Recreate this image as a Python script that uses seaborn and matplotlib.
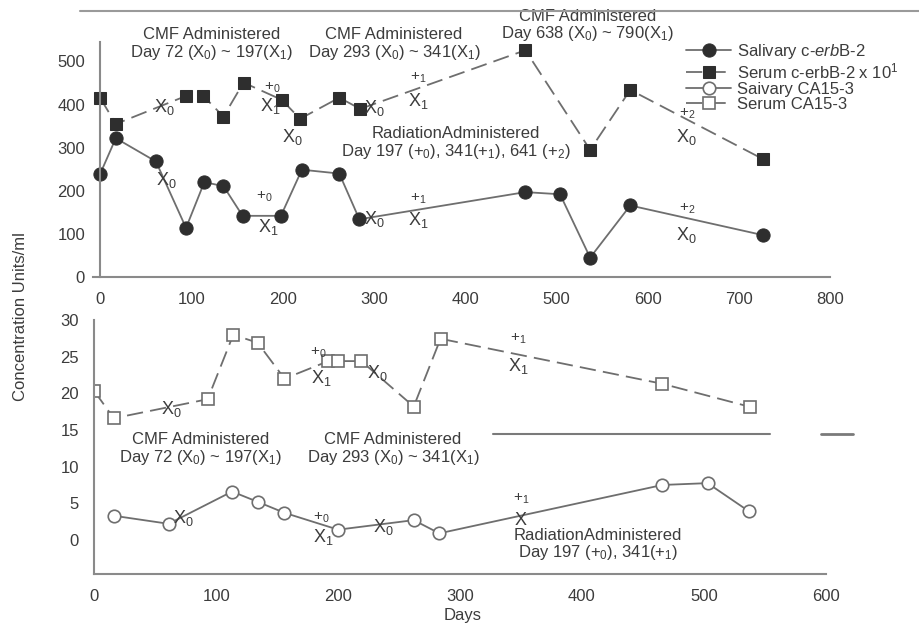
import matplotlib
matplotlib.use('Agg')
import matplotlib.pyplot as plt
import seaborn as sns
from matplotlib.lines import Line2D

# ── Data ───────────────────────────────────────────────────────────────────────
sal_erb_days = [0, 17, 61, 94, 114, 135, 156, 198, 221, 262, 284, 466, 504, 537, 581, 727]
sal_erb_vals = [240, 322, 268, 114, 220, 211, 142, 142, 249, 240, 134, 197, 192, 45, 166, 97]

ser_erb_days = [0, 17, 94, 113, 135, 157, 199, 219, 262, 285, 466, 537, 581, 727]
ser_erb_vals = [415, 355, 420, 420, 372, 451, 411, 367, 416, 390, 526, 295, 434, 273]

sal_ca_days = [16, 61, 113, 134, 156, 200, 262, 283, 466, 503, 537]
sal_ca_vals = [3.3, 2.2, 6.6, 5.2, 3.7, 1.4, 2.7, 0.9, 7.5, 7.75, 3.9]

ser_ca_days = [0, 16, 93, 114, 134, 156, 192, 200, 219, 262, 284, 466, 538]
ser_ca_vals = [20.3, 16.6, 19.2, 28.0, 26.9, 22.0, 24.4, 24.4, 24.4, 18.2, 27.45, 21.3, 18.15]

series_labels = ['Salivary c-$\\mathit{erb}$B-2', 'Serum c-erbB-2 x 10$^1$',
                 'Saivary CA15-3', 'Serum CA15-3']

top_xticks = list(range(0, 801, 100))
top_yticks = list(range(0, 501, 100))
bot_xticks = list(range(0, 601, 100))
bot_yticks = list(range(0, 31, 5))

# (text, day, value)
top_notes = [
    ('CMF Administered\nDay 72 (X$_0$) ~ 197(X$_1$)', 122, 540),
    ('CMF Administered\nDay 293 (X$_0$) ~ 341(X$_1$)', 322, 540),
    ('CMF Administered\nDay 638 (X$_0$) ~ 790(X$_1$)', 534, 582),
    ('RadiationAdministered\nDay 197 (+$_0$), 341(+$_1$), 641 (+$_2$)', 390, 309),
]
bot_notes = [
    ('CMF Administered\nDay 72 (X$_0$) ~ 197(X$_1$)', 87, 12.35),
    ('CMF Administered\nDay 293 (X$_0$) ~ 341(X$_1$)', 245, 12.35),
    ('RadiationAdministered\nDay 197 (+$_0$), 341(+$_1$)', 413, -0.7),
]

top_marks = [
    ('X$_0$', 70, 395), ('X$_0$', 72, 224),
    ('+$_0$', 188, 439), ('X$_1$', 186, 397),
    ('+$_0$', 180, 185), ('X$_1$', 184, 116),
    ('X$_0$', 211, 324),
    ('X$_0$', 300, 393), ('X$_0$', 300, 135),
    ('+$_1$', 349, 463), ('X$_1$', 349, 409),
    ('+$_1$', 349, 182), ('X$_1$', 349, 132),
    ('+$_2$', 643, 378), ('X$_0$', 643, 324),
    ('+$_2$', 643, 159), ('X$_0$', 643, 97),
]
bot_marks = [
    ('X$_0$', 63, 17.8),
    ('+$_0$', 184, 25.5), ('X$_1$', 186, 22.1),
    ('X$_0$', 232, 22.8),
    ('+$_1$', 348, 27.4), ('X$_1$', 348, 23.7),
    ('X$_0$', 73, 3.0),
    ('+$_0$', 186, 3.0), ('X$_1$', 188, 0.45),
    ('X$_0$', 237, 1.8),
    ('+$_1$', 350, 5.6), ('X', 350, 2.6),
]

# ── Style ──────────────────────────────────────────────────────────────────────
sns.set_style('white')
plt.rcParams['font.family'] = ['Liberation Sans', 'DejaVu Sans']
plt.rcParams['mathtext.fontset'] = 'custom'
plt.rcParams['mathtext.rm'] = 'Liberation Sans'
plt.rcParams['mathtext.it'] = 'Liberation Sans:italic'

TXT = '#3c3c3c'
LINE = '#6e6e6e'
DARK = '#2e2e2e'
AX = '#8a8a8a'

fig = plt.figure(figsize=(9.19, 6.24), dpi=100)
ax_top = fig.add_axes([0.1012, 0.556, 0.802, 0.3766])
ax_bot = fig.add_axes([0.1026, 0.0801, 0.796, 0.407])

# ── Top panel ──────────────────────────────────────────────────────────────────
sns.lineplot(x=sal_erb_days, y=sal_erb_vals, ax=ax_top, color=LINE, lw=1.3,
             marker='o', ms=9.5, mfc=DARK, mec=DARK, label=series_labels[0])
sns.lineplot(x=ser_erb_days, y=ser_erb_vals, ax=ax_top, color=LINE, lw=1.3,
             linestyle=(0, (9, 4)), marker='s', ms=8.5, mfc=DARK, mec=DARK,
             label=series_labels[1])

# ── Bottom panel ───────────────────────────────────────────────────────────────
sns.lineplot(x=sal_ca_days, y=sal_ca_vals, ax=ax_bot, color=LINE, lw=1.3,
             marker='o', ms=9, mfc='white', mec=LINE, mew=1.2, label=series_labels[2])
sns.lineplot(x=ser_ca_days, y=ser_ca_vals, ax=ax_bot, color=LINE, lw=1.3,
             linestyle=(0, (9, 4)), marker='s', ms=8, mfc='white', mec=LINE, mew=1.2,
             label=series_labels[3])

handles = ax_top.get_legend_handles_labels()[0] + ax_bot.get_legend_handles_labels()[0]
for a in (ax_top, ax_bot):
    if a.get_legend():
        a.get_legend().remove()

# ── Axes styling ───────────────────────────────────────────────────────────────
ax_top.set_xlim(-8, 800)
ax_top.set_ylim(0, 545)
ax_top.set_xticks(top_xticks)
ax_top.set_yticks(top_yticks)
ax_top.spines['left'].set_position(('data', 0))

ax_bot.set_xlim(0, 600)
ax_bot.set_ylim(-4.65, 30)
ax_bot.set_xticks(bot_xticks)
ax_bot.set_yticks(bot_yticks)
ax_bot.spines['left'].set_bounds(-4.65, 30)

for a in (ax_top, ax_bot):
    a.patch.set_alpha(0)
    for s in ('top', 'right'):
        a.spines[s].set_visible(False)
    for s in ('left', 'bottom'):
        a.spines[s].set_color(AX)
        a.spines[s].set_linewidth(1.5)
    a.tick_params(direction='out', length=6, width=1.2, color=AX,
                  labelsize=12, labelcolor=TXT, pad=5)
    a.set_xlabel('')
    a.set_ylabel('')

# ── Annotations ────────────────────────────────────────────────────────────────
for a, notes in ((ax_top, top_notes), (ax_bot, bot_notes)):
    for txt, x, y in notes:
        a.text(x, y, txt, ha='center', va='center', fontsize=12, color=TXT,
               linespacing=1.05, clip_on=False)

for a, marks in ((ax_top, top_marks), (ax_bot, bot_marks)):
    for txt, x, y in marks:
        size = 13 if txt.startswith('X') else 11
        a.text(x, y, txt, ha='center', va='center', fontsize=size, color=TXT,
               clip_on=False)

# scan artefacts: border lines
fig.add_artist(Line2D([0.087, 1.0], [1 - 10.5 / 624] * 2, color='#9a9a9a', lw=1.5))
ax_bot.plot([327, 554], [14.4, 14.4], color='#7a7a7a', lw=1.5, clip_on=False)
ax_bot.plot([596, 622], [14.4, 14.4], color='#7a7a7a', lw=2.0, clip_on=False)

# ── Legend & labels ────────────────────────────────────────────────────────────
fig.legend(handles=handles, labels=series_labels, loc='upper left',
           bbox_to_anchor=(676 / 919, 1 - 32 / 624), frameon=False,
           fontsize=12, handlelength=2.7, handletextpad=0.35, labelspacing=0.02,
           borderpad=0.1, labelcolor=TXT)

fig.text(0.022, 0.492, 'Concentration Units/ml', rotation=90, ha='center',
         va='center', fontsize=12, color=TXT)
fig.text(0.503, 0.0144, 'Days', ha='center', va='center', fontsize=12, color=TXT)

fig.savefig('out.png', dpi=100, facecolor='white')
